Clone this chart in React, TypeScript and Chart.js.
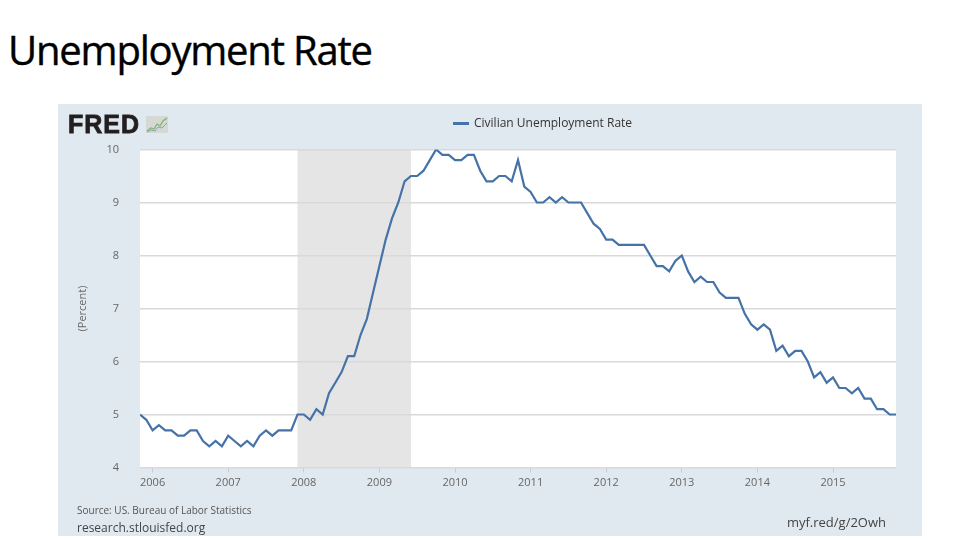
import React, { useEffect, useRef } from "react";
import { Chart, registerables } from "chart.js";

Chart.register(...registerables);

// Civilian unemployment rate, monthly, Nov 2005 - Nov 2015 (percent)
const rates2005 = [5.0, 4.9]; // Nov, Dec
const rates2006 = [4.7, 4.8, 4.7, 4.7, 4.6, 4.6, 4.7, 4.7, 4.5, 4.4, 4.5, 4.4];
const rates2007 = [4.6, 4.5, 4.4, 4.5, 4.4, 4.6, 4.7, 4.6, 4.7, 4.7, 4.7, 5.0];
const rates2008 = [5.0, 4.9, 5.1, 5.0, 5.4, 5.6, 5.8, 6.1, 6.1, 6.5, 6.8, 7.3];
const rates2009 = [7.8, 8.3, 8.7, 9.0, 9.4, 9.5, 9.5, 9.6, 9.8, 10.0, 9.9, 9.9];
const rates2010 = [9.8, 9.8, 9.9, 9.9, 9.6, 9.4, 9.4, 9.5, 9.5, 9.4, 9.8, 9.3];
const rates2011 = [9.2, 9.0, 9.0, 9.1, 9.0, 9.1, 9.0, 9.0, 9.0, 8.8, 8.6, 8.5];
const rates2012 = [8.3, 8.3, 8.2, 8.2, 8.2, 8.2, 8.2, 8.0, 7.8, 7.8, 7.7, 7.9];
const rates2013 = [8.0, 7.7, 7.5, 7.6, 7.5, 7.5, 7.3, 7.2, 7.2, 7.2, 6.9, 6.7];
const rates2014 = [6.6, 6.7, 6.6, 6.2, 6.3, 6.1, 6.2, 6.2, 6.0, 5.7, 5.8, 5.6];
const rates2015 = [5.7, 5.5, 5.5, 5.4, 5.5, 5.3, 5.3, 5.1, 5.1, 5.0, 5.0];

// month offset of the first value relative to Jan 2006
const firstMonthOffset = -2;
const lastMonthOffset = 118;

// year tick labels (tick at January of each year)
const yearLabels = ["2006", "2007", "2008", "2009", "2010", "2011", "2012", "2013", "2014", "2015"];

// NBER recession, in months relative to Jan 2006 (Dec 2007 - Jun 2009)
const recessionStart = 23;
const recessionEnd = 41;

const yMin = 4;
const yMax = 10;

const seriesLabel = "Civilian Unemployment Rate";

const allRates = [
  ...rates2005, ...rates2006, ...rates2007, ...rates2008, ...rates2009, ...rates2010,
  ...rates2011, ...rates2012, ...rates2013, ...rates2014, ...rates2015,
];

const FONT = "'Open Sans', 'Noto Sans', sans-serif";
const PANEL_BG = "#e1e9f0";
const LINE = "#4572a7";

const panelPlugin = {
  id: "panelBackground",
  beforeDraw(chart: any) {
    const { ctx, chartArea: a, scales } = chart;
    const x = scales.x;
    ctx.save();
    ctx.fillStyle = "#ffffff";
    ctx.fillRect(a.left, a.top, a.right - a.left, a.bottom - a.top);
    const x0 = x.getPixelForValue(recessionStart);
    const x1 = x.getPixelForValue(recessionEnd);
    ctx.fillStyle = "#e5e5e5";
    ctx.fillRect(x0, a.top, x1 - x0, a.bottom - a.top);
    ctx.restore();
  },
};

function FredChart() {
  const ref = useRef<HTMLCanvasElement | null>(null);
  useEffect(() => {
    if (!ref.current) return;
    const data = allRates.map((v, i) => ({ x: i + firstMonthOffset, y: v }));
    const chart = new Chart(ref.current, {
      type: "line",
      data: {
        datasets: [
          {
            label: seriesLabel,
            data,
            borderColor: LINE,
            borderWidth: 2.2,
            pointRadius: 0,
            tension: 0,
            fill: false,
          },
        ],
      },
      options: {
        responsive: false,
        maintainAspectRatio: false,
        animation: false,
        layout: { padding: { top: 45.5, right: 26, left: 0, bottom: 0 } },
        plugins: { legend: { display: false }, tooltip: { enabled: false } },
        scales: {
          x: {
            type: "linear",
            min: firstMonthOffset,
            max: lastMonthOffset,
            afterBuildTicks: (axis: any) => {
              axis.ticks = yearLabels.map((_, k) => ({ value: k * 12 }));
            },
            afterFit: (axis: any) => {
              axis.height = 68.5;
            },
            grid: { drawOnChartArea: false, drawTicks: true, tickLength: 5, color: "#cccccc" },
            border: { display: false },
            ticks: {
              autoSkip: false,
              maxRotation: 0,
              padding: 4,
              color: "#666666",
              font: { family: FONT, size: 11 },
              callback: (v: any) => yearLabels[Math.round(Number(v) / 12)] ?? "",
            },
          },
          y: {
            min: yMin,
            max: yMax,
            afterFit: (axis: any) => {
              axis.width = 82;
            },
            grid: { color: "#d9d9d9", lineWidth: 1.5, drawTicks: false },
            border: { display: false },
            ticks: {
              stepSize: 1,
              padding: 21,
              color: "#666666",
              font: { family: FONT, size: 11 },
            },
            title: {
              display: true,
              text: "(Percent)",
              color: "#666666",
              font: { family: FONT, size: 11 },
              padding: { top: 18, bottom: 0 },
            },
          },
        },
      },
      plugins: [panelPlugin],
    });
    return () => chart.destroy();
  }, []);
  return <canvas ref={ref} width={864} height={432} style={{ position: "absolute", left: 0, top: 0 }} />;
}

export default function App() {
  return (
    <div style={{ position: "absolute", left: 0, top: 0, width: 960, height: 540, background: "#fff", overflow: "hidden" }}>
      <div
        style={{
          position: "absolute",
          left: 8,
          top: 29.5,
          fontFamily: FONT,
          fontSize: 40,
          lineHeight: "40px",
          letterSpacing: "-1.2px",
          color: "#000",
          whiteSpace: "nowrap",
          WebkitTextStroke: "0.4px #000",
        }}
      >
        Unemployment Rate
      </div>
      <div style={{ position: "absolute", left: 58, top: 104, width: 864, height: 432, background: PANEL_BG }}>
        <FredChart />
        <div
          style={{
            position: "absolute",
            left: 10,
            top: 7.8,
            fontFamily: "'Liberation Sans', Arial, sans-serif",
            fontWeight: 700,
            fontSize: 25,
            lineHeight: "25px",
            letterSpacing: "1px",
            color: "#231f20",
            WebkitTextStroke: "0.8px #231f20",
          }}
        >
          FRED
        </div>
        <svg style={{ position: "absolute", left: 88, top: 12 }} width={22} height={17}>
          <rect x={0} y={0} width={22} height={17} fill="#d4d9d4" />
          <polyline points="1,15 5,12 8,13 11,8 14,10 17,5 21,2" fill="none" stroke="#7fb36b" strokeWidth={1.2} />
          <polyline points="1,16 5,14 9,15 12,11 16,12 21,7" fill="none" stroke="#8aa0b8" strokeWidth={1} />
        </svg>
        <div style={{ position: "absolute", left: 395, top: 17.5, width: 16, height: 3, background: LINE }} />
        <div
          style={{
            position: "absolute",
            left: 416,
            top: 10,
            fontFamily: FONT,
            fontSize: 12,
            lineHeight: "18px",
            color: "#333",
            whiteSpace: "nowrap",
          }}
        >
          {seriesLabel}
        </div>
        <div
          style={{
            position: "absolute",
            left: 19,
            top: 399,
            fontFamily: FONT,
            fontSize: 10,
            lineHeight: "14px",
            color: "#555",
            whiteSpace: "nowrap",
          }}
        >
          Source: US. Bureau of Labor Statistics
        </div>
        <div
          style={{
            position: "absolute",
            left: 19,
            top: 415,
            fontFamily: FONT,
            fontSize: 12,
            lineHeight: "18px",
            color: "#444",
            whiteSpace: "nowrap",
          }}
        >
          research.stlouisfed.org
        </div>
        <div
          style={{
            position: "absolute",
            right: 36,
            top: 408,
            fontFamily: FONT,
            fontSize: 13,
            lineHeight: "20px",
            color: "#444",
            whiteSpace: "nowrap",
          }}
        >
          myf.red/g/2Owh
        </div>
      </div>
    </div>
  );
}
